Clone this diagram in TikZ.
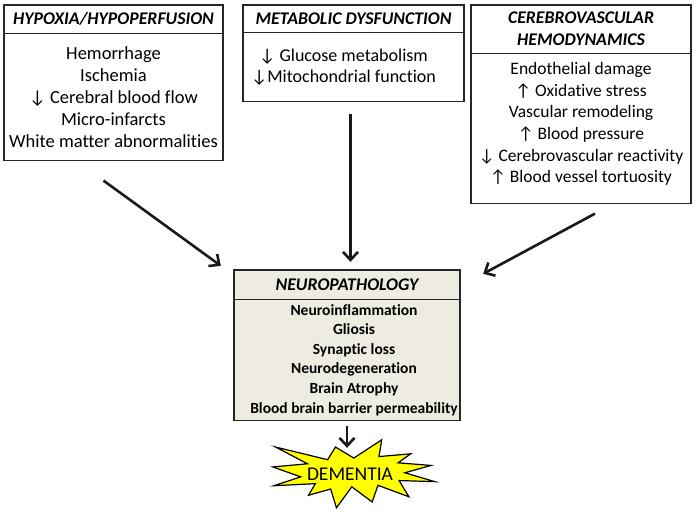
\documentclass[tikz,border=0pt]{standalone}
\usepackage{fontspec}
\setmainfont{Carlito}[Ligatures={NoCommon}]
\usepackage{xcolor}
\usepackage{tikz}
\usetikzlibrary{arrows.meta}
\usetikzlibrary{positioning}
\usetikzlibrary{backgrounds}

\definecolor{tanpanel}{HTML}{EEECE1}
\definecolor{burstyellow}{HTML}{FFFF00}

\begin{document}
\begin{tikzpicture}[x=1pt, y=-1pt,
    heading/.style={font=\fontsize{17.8}{22}\selectfont\bfseries\itshape, align=center, inner sep=0pt},
    entries/.style={font=\fontsize{17.5}{22}\selectfont, align=center, inner sep=0pt},
    boxline/.style={line width=1.6pt, draw=black!85},
    divider/.style={line width=0.8pt, draw=black!85},
    flow/.style={line width=2.6pt, draw=black!90, -{Straight Barb[length=8pt,width=15pt]}}]
    \useasboundingbox (0,0) rectangle (700,511);

    % the three causes
    \node[heading, minimum width=219pt, minimum height=28pt] (hypoxia) at (113.5,19) {HYPOXIA/HYPOPERFUSION};
    \node[entries, font=\fontsize{18.5}{22}\selectfont, minimum width=219pt, minimum height=127pt, below=0pt of hypoxia] (hypoxia-body)
        {Hemorrhage\\Ischemia\\↓ Cerebral blood flow\\Micro-infarcts\\White matter abnormalities};
    \node[heading, minimum width=221pt, minimum height=27pt] (metabolic) at (353.5,18.5) {METABOLIC DYSFUNCTION};
    \node[entries, font=\fontsize{18}{21}\selectfont, minimum width=221pt, minimum height=69pt, below=0pt of metabolic, xshift=-10pt] (metabolic-body)
        {↓ Glucose metabolism\\↓Mitochondrial function};
    \node[heading, minimum width=220pt, minimum height=48pt] (cerebro) at (581,29) {CEREBROVASCULAR\\HEMODYNAMICS};
    \node[entries, font=\fontsize{17.5}{21.6}\selectfont, text depth=11.5pt, minimum width=220pt, minimum height=150pt, below=0pt of cerebro] (cerebro-body)
        {Endothelial damage\\↑ Oxidative stress\\Vascular remodeling\\↑ Blood pressure\\↓ Cerebrovascular reactivity\\↑ Blood vessel tortuosity};

    % neuropathology
    \node[heading, minimum width=226pt, minimum height=29pt] (neuro) at (347,284.5) {NEUROPATHOLOGY};
    \node[entries, font=\fontsize{15.5}{19.6}\selectfont\bfseries, minimum width=226pt, minimum height=121pt, below=0pt of neuro, xshift=7pt] (neuro-body)
        {Neuroinflammation\\Gliosis\\Synaptic loss\\Neurodegeneration\\Brain Atrophy\\Blood brain barrier permeability};

    \begin{scope}[on background layer]
    \foreach \panel/\shade in {hypoxia/white, metabolic/white, cerebro/white, neuro/tanpanel}{
        \filldraw[boxline, fill=\shade] (\panel.north west) rectangle (\panel.east |- \panel-body.south);
        \draw[divider] (\panel.south west) -- (\panel.south east);
    }
    \end{scope}

    % dementia burst
    \node[font=\fontsize{19.5}{22}\selectfont, minimum width=162pt, minimum height=68pt, inner sep=0pt] (dementia) at (350,474) {DEMENTIA};
    \begin{scope}[on background layer, shift={([xshift=4pt]dementia.north west)}, xscale=1.62, yscale=0.68]
        \filldraw[fill=burstyellow, draw=black, line width=1.2pt, line join=miter]
            (50,26.85) -- (67.23,0) -- (65.53,24.65) -- (85.09,20.63) -- (77.32,33.87) -- (97.67,37.67)
            -- (81.51,48.50) -- (100,61.53) -- (77.95,59.92) -- (84.00,83.77) -- (64.91,66.93)
            -- (61.33,91.38) -- (48.76,69.14) -- (39.28,100) -- (35.72,72.35) -- (22.05,81.56)
            -- (26.24,64.52) -- (0.63,67.53) -- (17.23,54.51) -- (0,39.88) -- (21.42,35.26)
            -- (1.71,10.63) -- (33.85,29.26) -- (38.67,10.63) -- cycle;
    \end{scope}

    % arrows
    \draw[flow] ([xshift=-10pt,yshift=-20pt]hypoxia.south |- hypoxia-body.south) -- ([xshift=-13pt,yshift=4pt]neuro.north west);
    \coordinate (drop) at ([xshift=-3pt,yshift=-12pt]metabolic.south |- metabolic-body.south);
    \draw[flow, shorten >=8pt] (drop) -- (drop |- neuro.north);
    \draw[flow] ([xshift=14pt,yshift=-10pt]cerebro.south |- cerebro-body.south) -- ([xshift=23pt,yshift=-4pt]neuro.north east);
    \draw[flow] ([yshift=-5pt]neuro.south |- neuro-body.south) -- ([xshift=-3pt,yshift=-8pt]dementia.north);
\end{tikzpicture}
\end{document}
